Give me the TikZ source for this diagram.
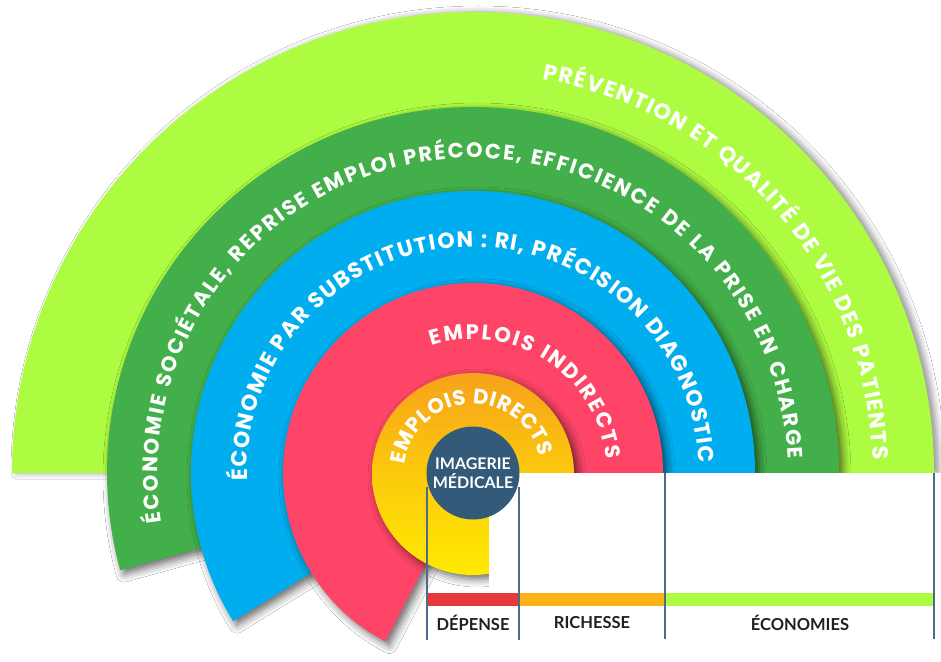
\documentclass[tikz,border=0pt]{standalone}
\usepackage{fontspec}
\setmainfont{Lato}
\newfontfamily\ringfont{Poppins}
\usetikzlibrary{decorations.text,shadows.blur}
\definecolor{lgreen}{HTML}{AEFC41}
\definecolor{dgreen}{HTML}{43AF4A}
\definecolor{cblue}{HTML}{00AEEF}
\definecolor{cpink}{HTML}{FF4567}
\definecolor{ytop}{HTML}{F7A21B}
\definecolor{ybot}{HTML}{FFEA00}
\definecolor{navy}{HTML}{345A7A}
\definecolor{cred}{HTML}{E63A3A}
\definecolor{corange}{HTML}{FBB316}
\definecolor{tline}{HTML}{4D6A86}
\definecolor{label}{HTML}{231F20}
\begin{document}
\begin{tikzpicture}[x=1pt,y=1pt,
  ring/.style={blur shadow={shadow xshift=4pt,shadow yshift=-4pt,shadow blur radius=8pt,shadow opacity=60}},
  outerring/.style={blur shadow={shadow xshift=5pt,shadow yshift=0pt,shadow blur radius=6pt,shadow opacity=40}},
  tabline/.style={draw=tline,line width=1.4pt},
  lab/.style={text=label,font=\bfseries\fontsize{16.5}{16.5}\selectfont,inner sep=0pt,anchor=center},
  ringtext/.style 2 args={decorate,decoration={text along path,text align={fit to path},text color=white,
     text={|\ringfont\bfseries\fontsize{#1}{#1}\selectfont|#2}}}
]
\useasboundingbox (-473,-188) rectangle (468,473);
\fill[white] (-473,-188) rectangle (468,473);
\clip (-473,-188) rectangle (468,473);

% rings
\fill[lgreen,outerring] (0,0) -- (0:461) arc (0:180:461) -- cycle;
\fill[dgreen,ring] (0,0) -- (0:366) arc (0:195.4:366) -- cycle;
\fill[cblue,ring] (0,0) -- (0:282) arc (0:211.7:282) -- cycle;
\fill[cpink,ring] (0,0) -- (0:190) arc (0:242.5:190) -- cycle;
\path[ring,top color=ytop,bottom color=ybot,middle color=ytop!45!ybot] (0,-1) circle (101);

% white table area
\fill[white] (16,0) rectangle (470,-190);

% ring texts
\path[ringtext={22}{PRÉVENTION ET QUALITÉ DE VIE DES PATIENTS}] (80:400) arc (80:2:400);
\path[ringtext={21}{ÉCONOMIE SOCIÉTALE, REPRISE EMPLOI PRÉCOCE, EFFICIENCE DE LA PRISE EN CHARGE}] (189:315) arc (189:2.5:315);
\path[ringtext={22}{ÉCONOMIE PAR SUBSTITUTION : RI, PRÉCISION DIAGNOSTIC}] (182:226) arc (182:2.5:226);
\path[ringtext={21}{EMPLOIS INDIRECTS}] (108:134) arc (108:6:134);
\path[ringtext={21}{EMPLOIS DIRECTS}] (173:69) arc (173:14:69);

% bars
\fill[cred] (-46,-120) rectangle (46,-133);
\fill[corange] (46,-120) rectangle (192,-133);
\fill[lgreen] (192,-120) rectangle (461,-133);

% table lines
\coordinate (l1t) at (-46,-14); \coordinate (l1b) at (-46,-167);
\coordinate (l2t) at (46,-14);  \coordinate (l2b) at (46,-167);
\coordinate (l3t) at (192,0);   \coordinate (l3b) at (192,-166);
\coordinate (l4t) at (461,0);   \coordinate (l4b) at (461,-166);
\draw[tabline] (l1t) -- (l1b);
\draw[tabline] (l2t) -- (l2b);
\draw[tabline] (l3t) -- (l3b);
\draw[tabline] (l4t) -- (l4b);

% center circle
\node[circle,fill=navy,minimum size=93pt,inner sep=0pt,text=white,align=center,
      font=\bfseries\fontsize{16}{19}\selectfont] (img) at (0,0) {IMAGERIE\\MÉDICALE};

% labels
\node[lab] (dep) at (0,-150) {DÉPENSE};
\node[lab] (ric) at (119,-150) {RICHESSE};
\node[lab] (eco) at (327,-150) {ÉCONOMIES};
\end{tikzpicture}
\end{document}
